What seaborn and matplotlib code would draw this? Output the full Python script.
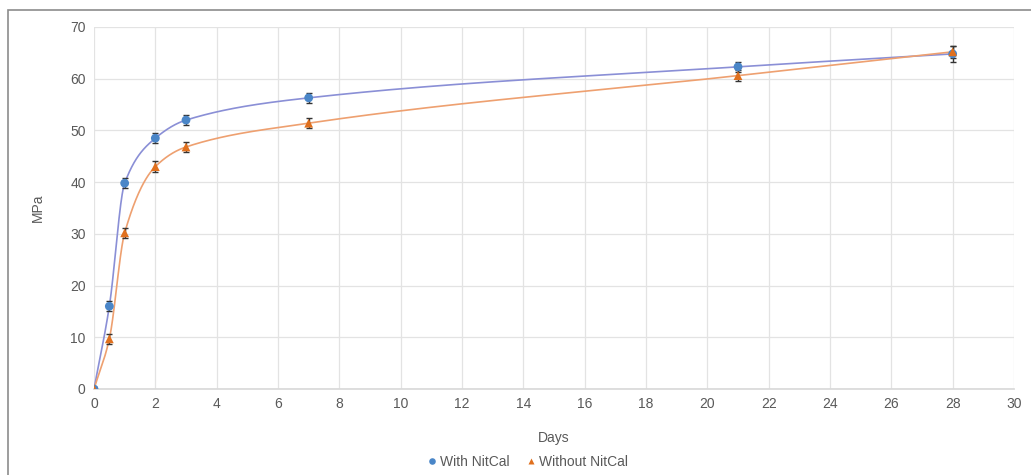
import numpy as np
import pandas as pd
import matplotlib
matplotlib.use("Agg")
import matplotlib.pyplot as plt
import seaborn as sns
from matplotlib.patches import Rectangle

days = [0, 0.5, 1, 2, 3, 7, 21, 28]
with_nitcal = [0, 16.0, 39.8, 48.5, 52.0, 56.3, 62.3, 64.8]
without_nitcal = [0, 9.7, 30.2, 43.0, 46.8, 51.4, 60.6, 65.2]
with_err = [0.4, 1.0, 1.0, 1.0, 1.0, 1.0, 1.0, 1.5]
without_err = [0.4, 1.0, 1.0, 1.0, 1.0, 1.0, 1.0, 1.2]
x_ticks = list(range(0, 31, 2))
y_ticks = list(range(0, 71, 10))


def smooth(xs, ys, n=80):
    """Smoothed connecting line through the points (monotone cubic Hermite)."""
    x = np.asarray(xs, float); y = np.asarray(ys, float)
    h = np.diff(x); d = np.diff(y) / h
    m = np.zeros_like(y)
    for k in range(1, len(x) - 1):
        if d[k - 1] * d[k] > 0:
            w1 = 2 * h[k] + h[k - 1]; w2 = h[k] + 2 * h[k - 1]
            m[k] = (w1 + w2) / (w1 / d[k - 1] + w2 / d[k])
    m[0] = d[0]
    m[-1] = d[-1]
    px, py = [], []
    for k in range(len(x) - 1):
        t = np.linspace(0, 1, n)
        h00 = 2*t**3 - 3*t**2 + 1; h10 = t**3 - 2*t**2 + t
        h01 = -2*t**3 + 3*t**2; h11 = t**3 - t**2
        px.extend(x[k] + t * h[k])
        py.extend(h00*y[k] + h10*h[k]*m[k] + h01*y[k+1] + h11*h[k]*m[k+1])
    return np.array(px), np.array(py)


sns.set_theme(style="whitegrid")
plt.rcParams['font.family'] = ['Liberation Sans', 'DejaVu Sans']

fig = plt.figure(figsize=(10.31, 4.75), dpi=100)
ax = fig.add_axes([94/1031, 1 - 389/475, (1014 - 94)/1031, (389 - 27)/475])

blue_line = "#8a8fd6"
blue_mk = "#4a86c8"
orange_line = "#eea070"
orange_mk = "#e0701e"

sx, sy = smooth(days, with_nitcal)
sns.lineplot(x=sx, y=sy, ax=ax, color=blue_line, lw=1.2, sort=False, estimator=None)
sx2, sy2 = smooth(days, without_nitcal)
sns.lineplot(x=sx2, y=sy2, ax=ax, color=orange_line, lw=1.2, sort=False, estimator=None)

ax.errorbar(days, with_nitcal, yerr=with_err, fmt='none', ecolor="#333333", elinewidth=1, capsize=2, zorder=3)
ax.errorbar(days, without_nitcal, yerr=without_err, fmt='none', ecolor="#333333", elinewidth=1, capsize=2, zorder=3)

df = pd.DataFrame({"Days": days * 2,
                   "MPa": with_nitcal + without_nitcal,
                   "Series": ["With NitCal"] * len(days) + ["Without NitCal"] * len(days)})
sns.scatterplot(data=df, x="Days", y="MPa", hue="Series", style="Series",
                markers={"With NitCal": "o", "Without NitCal": "^"},
                palette={"With NitCal": blue_mk, "Without NitCal": orange_mk},
                s=40, edgecolor="none", ax=ax, zorder=4)

ax.set_xlim(0, 30)
ax.set_ylim(0, 70)
ax.set_xticks(x_ticks)
ax.set_yticks(y_ticks)
ax.grid(True, color="#e3e3e3", lw=0.9)
for sp in ax.spines.values():
    sp.set_visible(False)
ax.spines['bottom'].set_visible(True)
ax.spines['bottom'].set_color("#d9d9d9")
ax.tick_params(axis='both', colors="#595959", labelsize=10, length=0, pad=6)
ax.set_xlabel("Days", color="#595959", fontsize=10, labelpad=14)
ax.set_ylabel("MPa", color="#595959", fontsize=10, labelpad=18)

handles, labels = ax.get_legend_handles_labels()
ax.legend(handles=handles, labels=labels, loc='center', ncol=2,
          frameon=False, fontsize=10, markerscale=0.75, handlelength=0.6,
          handletextpad=0.3, columnspacing=1.2,
          labelcolor="#595959", bbox_to_anchor=(528/1031, 13/475), bbox_transform=fig.transFigure)

fig.patches.append(Rectangle((8/1031, -0.1), 1.1, 1 - 10/475 + 0.1, transform=fig.transFigure,
                             fill=False, edgecolor="#8c8c8c", lw=1.2))

fig.savefig("out.png", dpi=100)
